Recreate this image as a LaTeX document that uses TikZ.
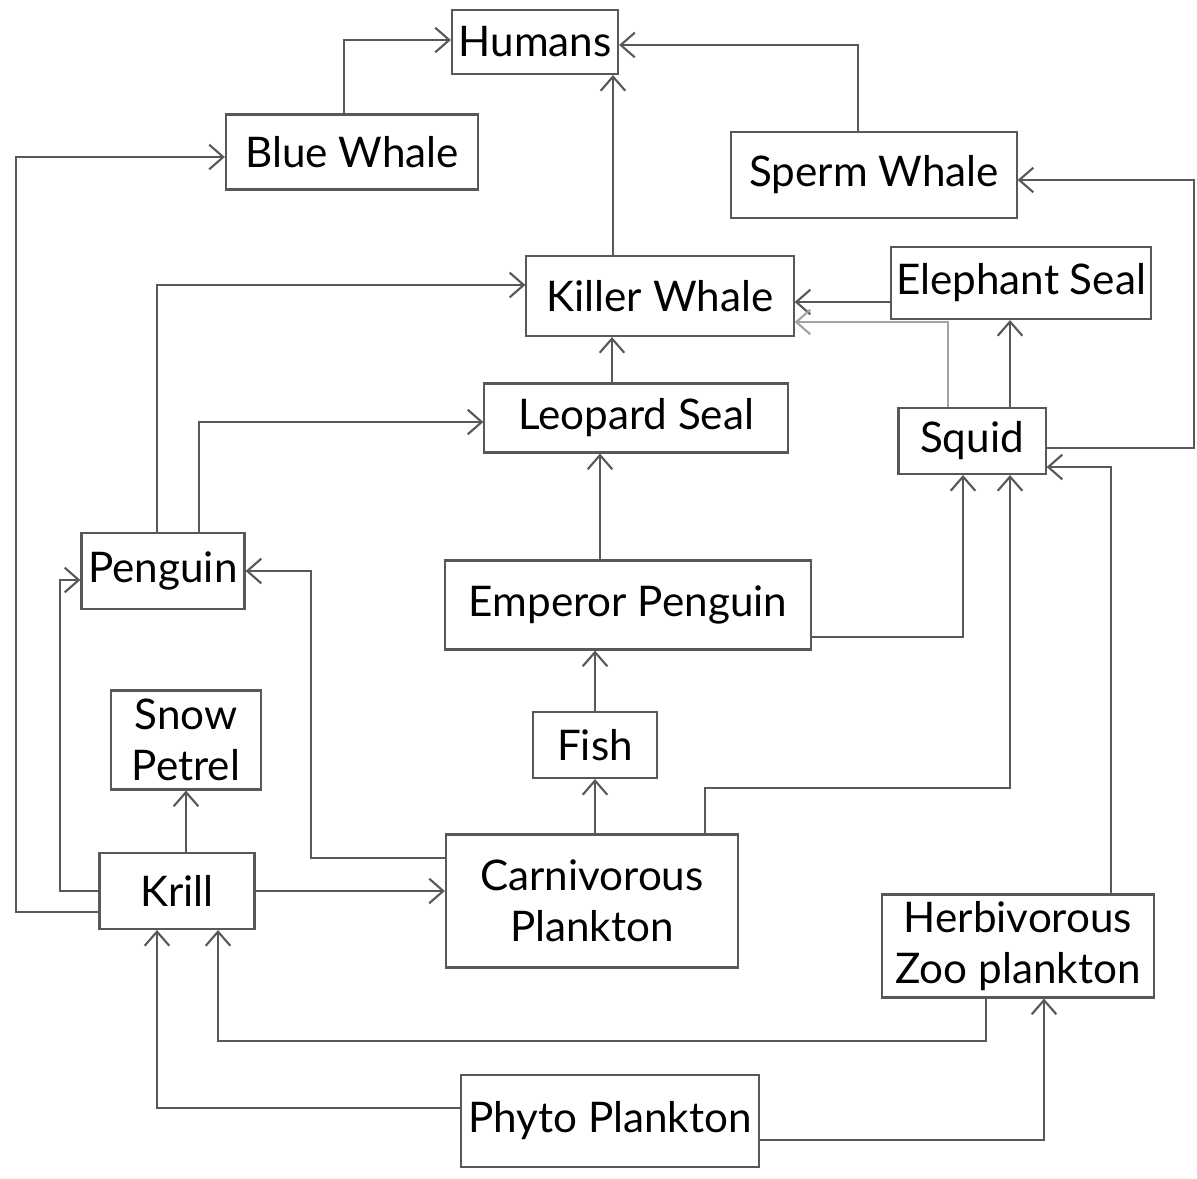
\documentclass[tikz,border=0pt]{standalone}
\usepackage{fontspec}
\setsansfont{Lato}
\usepackage{xcolor}
\usepackage{tikz}
\usetikzlibrary{arrows.meta,positioning,calc}
\definecolor{lineg}{HTML}{585858}

\begin{document}
\begin{tikzpicture}[x=0.01cm, y=-0.01cm,
    font=\fontsize{12}{14}\selectfont\sffamily,
    box/.style={draw=lineg, line width=0.6pt, align=center, inner sep=1pt,
                font=\fontsize{12}{14.5}\selectfont\sffamily},
    arr/.style={-{Straight Barb[length=4pt,width=7pt]}, line width=0.6pt, lineg},
    faint/.style={arr, lineg!55}
]
  \useasboundingbox (0,0) rectangle (1197,1179);

  \node[box, minimum width=1.66cm, minimum height=0.64cm] (humans) at (535,42) {Humans};
  \node[box, minimum width=2.52cm, minimum height=0.75cm] (bluewhale) at (352,152) {Blue Whale};
  \node[box, minimum width=2.85cm, minimum height=0.86cm] (spermwhale) at (874,175) {Sperm Whale};
  \node[box, minimum width=2.67cm, minimum height=0.80cm] (killerwhale) at (660,296) {Killer Whale};
  \node[box, minimum width=2.60cm, minimum height=0.72cm] (elephantseal) at (1021,283) {Elephant Seal};
  \node[box, minimum width=3.03cm, minimum height=0.69cm] (leopardseal) at (636,418) {Leopard Seal};
  \node[box, minimum width=1.47cm, minimum height=0.66cm] (squid) at (972,441) {Squid};
  \node[box, minimum width=1.63cm, minimum height=0.76cm] (penguin) at (163,571) {Penguin};
  \node[box, minimum width=3.65cm, minimum height=0.89cm] (emperor) at (628,605) {Emperor Penguin};
  \node[box, minimum width=1.50cm, minimum height=0.99cm] (petrel) at (186,740) {Snow\\Petrel};
  \node[box, minimum width=1.24cm, minimum height=0.66cm] (fish) at (595,745) {Fish};
  \node[box, minimum width=1.55cm, minimum height=0.76cm] (krill) at (177,891) {Krill};
  \node[box, minimum width=2.92cm, minimum height=1.33cm] (carnplank) at (592,901) {Carnivorous\\Plankton};
  \node[box, minimum width=2.72cm, minimum height=1.03cm] (herbzoo) at (1018,946) {Herbivorous\\Zoo plankton};
  \node[box, minimum width=2.98cm, minimum height=0.92cm] (phyto) at (610,1121) {Phyto Plankton};

  \draw[arr] ([xshift=-0.8mm]bluewhale.north) |- ([yshift=0.2mm]humans.west);
  \draw[arr] ([xshift=-1.6mm]spermwhale.north) |- ([yshift=-0.3mm]humans.east);
  \draw[arr] ([xshift=-4.7mm]killerwhale.north) -- ([xshift=-4.7mm]killerwhale.north |- humans.south);
  \draw[arr] ([yshift=-1.9mm]elephantseal.west) -- ([yshift=-1.9mm]elephantseal.west -| killerwhale.east);
  \draw[faint] ([xshift=-2.4mm]squid.north) |- ([yshift=-2.6mm]killerwhale.east);
  \draw[arr] ([xshift=3.8mm]squid.north) -- ([xshift=3.8mm]squid.north |- elephantseal.south);
  \draw[arr] ([yshift=-0.7mm]squid.east) -- ++(147,0) |- ([yshift=-0.5mm]spermwhale.east);
  \draw[arr] ([xshift=-2.4mm]leopardseal.north) -- ([xshift=-2.4mm]leopardseal.north |- killerwhale.south);
  \draw[arr] ([xshift=-0.6mm]penguin.north) |- ([yshift=1.1mm]killerwhale.west);
  \draw[arr] ([xshift=3.6mm]penguin.north) |- ([yshift=-0.4mm]leopardseal.west);
  \draw[arr] ([xshift=-2.8mm]emperor.north) -- ([xshift=-2.8mm]emperor.north |- leopardseal.south);
  \draw[arr] ([yshift=-3.2mm]emperor.east) -| ([xshift=-0.9mm]squid.south);
  \draw[arr] (fish.north) -- (fish.north |- emperor.south);
  \draw[arr] (fish.south |- carnplank.north) -- (fish.south);
  \draw[arr] ([yshift=4.3mm]carnplank.west) -- ++(-134,0) |- (penguin.east);
  \draw[arr] ([xshift=11.3mm]carnplank.north) -- ++(0,-45) -| ([xshift=3.8mm]squid.south);
  \draw[arr] (krill.east) -- (krill.east -| carnplank.west);
  \draw[arr] (petrel.south |- krill.north) -- (petrel.south);
  \draw[arr] (krill.west) -- ++(-38,0) |- ([yshift=-0.9mm]penguin.west);
  \draw[arr] ([yshift=-2.1mm]krill.west) -- ++(-82,0) |- ([yshift=-0.5mm]bluewhale.west);
  \draw[arr] ([xshift=-3.2mm]herbzoo.south) -- ++(0,42) -| ([xshift=4.1mm]krill.south);
  \draw[arr] ([yshift=1.3mm]phyto.west) -| ([xshift=-2.0mm]krill.south);
  \draw[arr] ([yshift=-1.9mm]phyto.east) -| ([xshift=2.6mm]herbzoo.south);
  \draw[arr] ([xshift=9.3mm]herbzoo.north) |- ([yshift=-2.6mm]squid.east);
\end{tikzpicture}
\end{document}
